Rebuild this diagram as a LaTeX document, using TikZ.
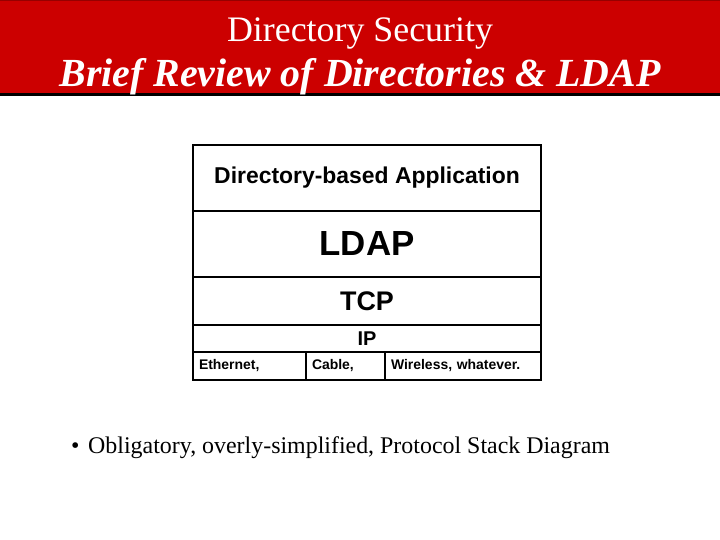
\documentclass[tikz,border=0pt]{standalone}
\usepackage{fontspec}
\setmainfont{Liberation Serif}
\setsansfont{Liberation Sans}
\usetikzlibrary{
    positioning
}
\definecolor{bandRed}{RGB}{204, 0, 0}
\definecolor{bandEdge}{RGB}{150, 0, 0}
\definecolor{textBlack}{RGB}{0, 0, 0}
\def\slideW{720}
\def\slideH{540}
\tikzset{
    slide/.style={
        rectangle,
        fill=white,
        minimum width=\slideW bp,
        minimum height=\slideH bp,
        anchor=north west,
        inner sep=0pt
    },
    h1/.style={
        font=\fontsize{36}{40}\selectfont,
        text=white,
        inner sep=0pt
    },
    h2/.style={
        font=\fontsize{40}{44}\selectfont\bfseries\itshape,
        text=white,
        inner sep=0pt
    },
    body/.style={
        font=\fontsize{24}{28}\selectfont,
        text=textBlack,
        anchor=base west,
        inner sep=0pt
    },
    % Protocol stack
    layer/.style={
        rectangle,
        draw=textBlack,
        line width=2bp,
        minimum width=348bp,
        anchor=north west,
        inner sep=0pt,
        font=\sffamily\bfseries
    },
    cell/.style={
        layer,
        minimum height=28bp,
        align=left,
        font=\sffamily\bfseries\fontsize{14}{16}\selectfont
    }
}

\begin{document}
\begin{tikzpicture}[x=1bp, y=-1bp]
    \useasboundingbox (0,0) rectangle (\slideW, \slideH);
    \node[slide] at (0,0) {};

    % Title band
    \fill[bandRed] (0,0) rectangle (\slideW, 94);
    \fill[bandEdge] (0,0) rectangle (\slideW, 1.5);
    \fill[textBlack] (0,93) rectangle (\slideW, 96.5);
    \node[h1] (title) at (360, 34) {Directory Security};
    \node[h2] (subtitle) at (360, 77) {Brief Review of Directories \& LDAP};

    % Stack
    \node[layer, minimum height=66bp, font=\sffamily\bfseries\fontsize{23}{26}\selectfont] (app) at (192, 144) {Directory-based Application};
    \node[layer, minimum height=66bp, font=\sffamily\bfseries\fontsize{35}{40}\selectfont] (ldap) at (192, 210) {LDAP};
    \node[layer, minimum height=48bp, font=\sffamily\bfseries\fontsize{27}{30}\selectfont] (tcp) at (192, 276) {TCP};
    \node[layer, minimum height=27bp, font=\sffamily\bfseries\fontsize{20}{22}\selectfont] (ip) at (192, 324) {IP};
    \node[cell, minimum width=113bp, text width=101bp, inner xsep=6bp] (ether) at (192, 351) {Ethernet,};
    \node[cell, minimum width=79bp, text width=67bp, inner xsep=6bp] (cable) at (305, 351) {Cable,};
    \node[cell, minimum width=156bp, text width=144bp, inner xsep=6bp] (wireless) at (384, 351) {Wireless, whatever.};

    % Bullet
    \node[body] (dot) at (71, 453) {\textbullet};
    \node[body] (note) at (88, 453) {Obligatory, overly-simplified, Protocol Stack Diagram};
\end{tikzpicture}
\end{document}
